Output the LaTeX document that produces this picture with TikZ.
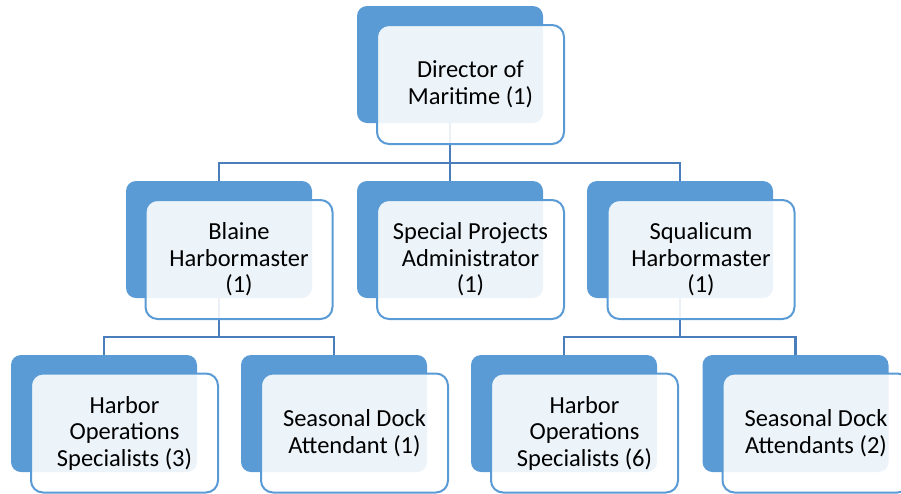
\documentclass[tikz,border=0pt]{standalone}
\usepackage{fontspec}
\setmainfont{Carlito}
\definecolor{accent}{RGB}{91,155,213}
\definecolor{linkblue}{RGB}{74,126,187}
\begin{document}
\begin{tikzpicture}[x=1pt,y=-1pt,
  backbox/.style={fill=accent,draw=none,rounded corners=10pt,
    minimum width=186pt,minimum height=117pt,inner sep=0pt,outer sep=0pt},
  frontbox/.style={fill=white,fill opacity=0.89,text opacity=1,draw=accent,
    line width=2pt,rounded corners=12pt,minimum width=187pt,minimum height=119pt,
    inner sep=0pt,outer sep=0pt,align=center,
    font=\fontsize{24.5}{26.5}\selectfont},
  conn/.style={draw=linkblue,line width=2.2pt}]
\useasboundingbox (0,0) rectangle (901,493);
\clip (0,0) rectangle (901,493);

% back panels
\node[backbox] (dirB) at (450,64.5) {};
\node[backbox] (blaineB) at (219,239.5) {};
\node[backbox] (spB) at (450,239.5) {};
\node[backbox] (sqB) at (680,239.5) {};
\node[backbox] (hos3B) at (104,413.5) {};
\node[backbox] (sda1B) at (334,413.5) {};
\node[backbox] (hos6B) at (564,413.5) {};
\node[backbox] (sda2B) at (795.5,413.5) {};

% connectors
\draw[conn] (blaineB.north) -- ++(0,-18) -| (sqB.north);
\draw[conn] (dirB.south) -- (spB.north);
\draw[conn] (hos3B.north) -- ++(0,-18) -| (sda1B.north);
\draw[conn] (blaineB.south) -- ++(0,38);
\draw[conn] (hos6B.north) -- ++(0,-18) -| (sda2B.north);
\draw[conn] (sqB.south) -- ++(0,38);

% front cards with titles
\node[frontbox] (dir) at (470.5,84.5) {Director of\\Maritime (1)};
\node[frontbox] (blaine) at (239,259.5) {Blaine\\Harbormaster\\(1)};
\node[frontbox] (sp) at (470.5,259.5) {Special Projects\\Administrator\\(1)};
\node[frontbox] (sq) at (701,259.5) {Squalicum\\Harbormaster\\(1)};
\node[frontbox] (hos3) at (124.5,433) {Harbor\\Operations\\Specialists (3)};
\node[frontbox] (sda1) at (354.5,433) {Seasonal Dock\\Attendant (1)};
\node[frontbox] (hos6) at (584.5,433) {Harbor\\Operations\\Specialists (6)};
\node[frontbox] (sda2) at (816,433) {Seasonal Dock\\Attendants (2)};
\end{tikzpicture}
\end{document}
